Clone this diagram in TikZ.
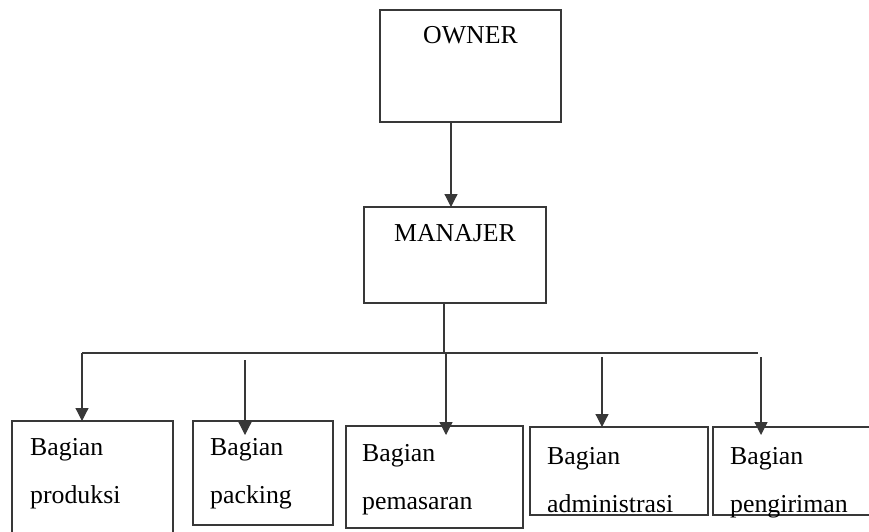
\documentclass[tikz,border=0pt]{standalone}
\usepackage{fontspec}
\setmainfont{Liberation Serif}
\usetikzlibrary{positioning, arrows.meta}
\colorlet{line_col}{black!78}

\begin{document}
\begin{tikzpicture}[x=1pt, y=-1pt,
                    unitbox/.style={rectangle, draw=line_col, line width=1.3pt, inner sep=0pt, outer sep=0pt},
                    caption/.style={inner sep=0pt, align=left, font=\fontsize{25.8}{48}\selectfont},
                    connection/.style={-{Triangle[width=13pt, length=13pt]}, line_col, line width=1.2pt},
                    busline/.style={line_col, line width=1.2pt}]

  \useasboundingbox (0,0) rectangle (869,531);
  \clip (0,0) rectangle (869,531);

  % Define units
  \node[unitbox, minimum width=181pt, minimum height=112pt,
        label={[caption, anchor=base, yshift=-33pt]north:OWNER}] (owner) at (470.5,66) {};
  \node[unitbox, minimum width=182pt, minimum height=96pt,
        label={[caption, anchor=base, yshift=-34pt]north:MANAJER}] (manajer) at (455,255) {};
  \node[unitbox, minimum width=161pt, minimum height=139pt,
        label={[caption, anchor=north west, xshift=18pt, yshift=-17pt]north west:Bagian\\produksi}] (produksi) at (92.5,490.5) {};
  \node[unitbox, minimum width=140pt, minimum height=104pt,
        label={[caption, anchor=north west, xshift=17pt, yshift=-17pt]north west:Bagian\\packing}] (packing) at (263,473) {};
  \node[unitbox, minimum width=177pt, minimum height=102pt,
        label={[caption, anchor=north west, xshift=16pt, yshift=-18pt]north west:Bagian\\pemasaran}] (pemasaran) at (434.5,477) {};
  \node[unitbox, minimum width=178pt, minimum height=88pt,
        label={[caption, anchor=north west, xshift=17pt, yshift=-20pt]north west:Bagian\\administrasi}] (administrasi) at (619,471) {};
  \node[unitbox, minimum width=177pt, minimum height=88pt,
        label={[caption, anchor=north west, xshift=17pt, yshift=-20pt]north west:Bagian\\pengiriman}] (pengiriman) at (801.5,471) {};

  % Bus line
  \coordinate (bus_w) at (82,353);
  \coordinate (bus_e) at (758,353);
  \coordinate (bus_m) at (444,353);
  \coordinate (s_packing) at (245,360);
  \coordinate (s_pemasaran) at (446,353);
  \coordinate (s_admin) at (602,357);
  \coordinate (s_kirim) at (761,357);

  % Connections
  \draw[connection] ([xshift=-19.5pt]owner.south) -- ([xshift=-4pt]manajer.north);
  \draw[busline] ([xshift=-11pt]manajer.south) -- (bus_m);
  \draw[busline] (bus_w) -- (bus_e);
  \draw[connection] (bus_w) -- (bus_w |- produksi.north);
  \draw[connection] (s_packing) -- ([yshift=-14pt]s_packing |- packing.north);
  \draw[connection] (s_pemasaran) -- ([yshift=-9pt]s_pemasaran |- pemasaran.north);
  \draw[connection] (s_admin) -- (s_admin |- administrasi.north);
  \draw[connection] (s_kirim) -- ([yshift=-8pt]s_kirim |- pengiriman.north);

\end{tikzpicture}
\end{document}
